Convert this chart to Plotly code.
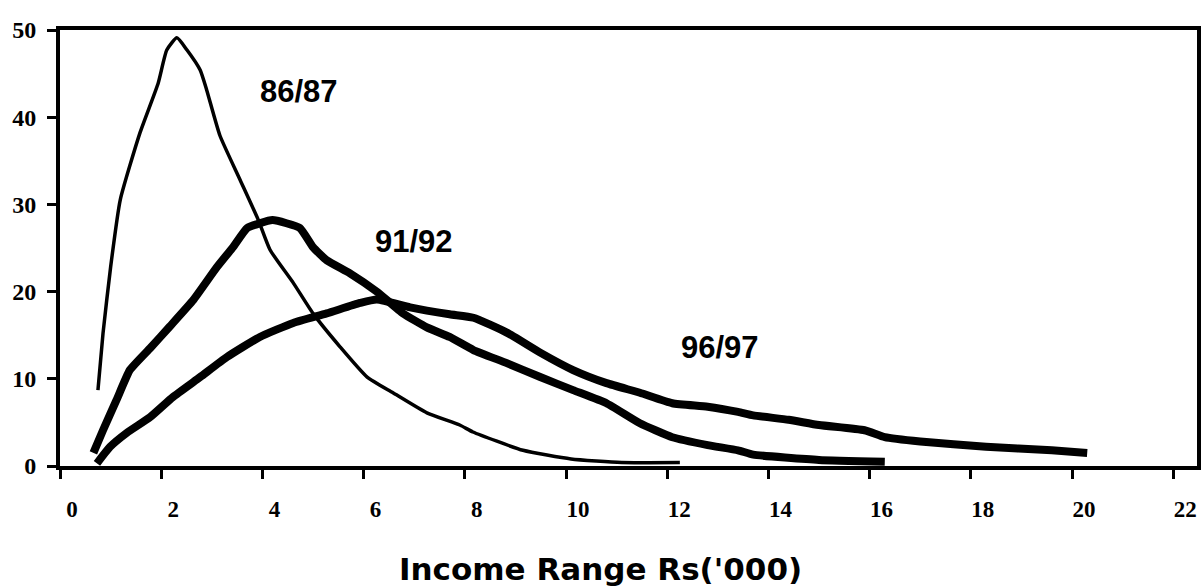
import plotly.graph_objects as go

# ---- data ----
x_8687 = [0.75, 0.85, 1.0, 1.19, 1.58, 1.94, 2.11, 2.31, 2.51, 2.77, 2.9, 3.16, 3.56, 3.92,
          4.15, 4.61, 5.0, 5.53, 6.07, 6.58, 7.25, 7.9, 8.16, 9.15, 10.1, 11.1, 12.25]
y_8687 = [8.7, 15.2, 22.8, 30.5, 38.2, 43.9, 47.7, 49.1, 47.7, 45.4, 43.1, 37.9, 32.8, 28.2,
          24.8, 21.0, 17.5, 13.7, 10.2, 8.4, 6.1, 4.7, 3.9, 1.8, 0.8, 0.4, 0.4]

x_9192 = [0.66, 0.85, 1.12, 1.38, 1.78, 2.17, 2.63, 3.1, 3.42, 3.7, 4.2, 4.74, 5.0, 5.27, 5.73,
          6.26, 6.78, 7.25, 7.7, 8.17, 8.83, 9.49, 10.14, 10.8, 11.46, 12.1, 12.8, 13.4,
          13.7, 15.0, 16.3]
y_9192 = [1.5, 4.1, 7.6, 11.0, 13.5, 16.0, 19.0, 22.8, 25.1, 27.3, 28.2, 27.3, 25.1, 23.6, 22.1,
          20.0, 17.5, 15.9, 14.8, 13.3, 11.8, 10.2, 8.7, 7.2, 4.9, 3.3, 2.4, 1.8,
          1.3, 0.7, 0.5]

x_9697 = [0.73, 0.99, 1.32, 1.78, 2.23, 2.77, 3.3, 3.95, 4.61, 5.27, 5.93, 6.26, 6.92, 7.7,
          8.17, 8.83, 9.49, 10.14, 10.8, 11.46, 12.1, 12.8, 13.4, 13.7, 14.4, 15.0, 15.9,
          16.3, 17.0, 18.3, 19.6, 20.3]
y_9697 = [0.3, 2.2, 3.8, 5.6, 7.9, 10.2, 12.5, 14.8, 16.4, 17.5, 18.7, 19.1, 18.2, 17.4,
          17.0, 15.3, 13.0, 11.0, 9.5, 8.4, 7.2, 6.8, 6.2, 5.8, 5.3, 4.7, 4.1,
          3.3, 2.8, 2.2, 1.8, 1.5]

labels = ["86/87", "91/92", "96/97"]
label_x = [4.72, 7.0, 13.05]
label_y = [43.0, 25.7, 13.6]

x_ticks = [0, 2, 4, 6, 8, 10, 12, 14, 16, 18, 20, 22]
y_ticks = [0, 10, 20, 30, 40, 50]
x_title = "Income Range Rs('000)"

fig = go.Figure()
fig.add_trace(go.Scatter(x=x_8687, y=y_8687, mode="lines",
                         line=dict(color="black", width=3.5, shape="spline", smoothing=0.5)))
fig.add_trace(go.Scatter(x=x_9192, y=y_9192, mode="lines",
                         line=dict(color="black", width=8, shape="spline", smoothing=0.4)))
fig.add_trace(go.Scatter(x=x_9697, y=y_9697, mode="lines",
                         line=dict(color="black", width=8, shape="spline", smoothing=0.5)))

for t, xx, yy in zip(labels, label_x, label_y):
    fig.add_annotation(x=xx, y=yy, text=t, showarrow=False,
                       font=dict(family="Liberation Sans", size=31, color="black", weight="bold"))

# axis title, placed centred under the plot
fig.add_annotation(x=0.475, y=-0.236, xref="paper", yref="paper", text=x_title,
                   showarrow=False, xanchor="center", yanchor="middle",
                   font=dict(family="DejaVu Sans", size=31, color="black", weight="bold"))

fig.update_layout(
    width=1202, height=588,
    margin=dict(l=60, r=5, t=30, b=122),
    paper_bgcolor="white", plot_bgcolor="white",
    showlegend=False,
)
fig.update_xaxes(
    range=[0, 22.47], tickvals=x_ticks, ticktext=[str(v) for v in x_ticks],
    showgrid=False, zeroline=False, automargin=False,
    showline=True, linecolor="black", linewidth=4, mirror=True,
    ticks="outside", ticklen=9, tickwidth=3, tickcolor="black",
    tickfont=dict(family="Liberation Serif", size=23, color="black", weight="bold"),
    ticklabelshift=12, ticklabelstandoff=10,
)
fig.update_yaxes(
    range=[0, 50], tickvals=y_ticks, ticktext=[str(v) for v in y_ticks],
    showgrid=False, zeroline=False, automargin=False,
    showline=True, linecolor="black", linewidth=4, mirror=True,
    ticks="outside", ticklen=9, tickwidth=3, tickcolor="black",
    tickfont=dict(family="Liberation Serif", size=24, color="black", weight="bold"),
    ticklabelstandoff=6,
)

fig.write_html("out.html",
               config={"displayModeBar": False},
               post_script="document.body.style.margin='0';document.body.style.overflow='hidden';")
